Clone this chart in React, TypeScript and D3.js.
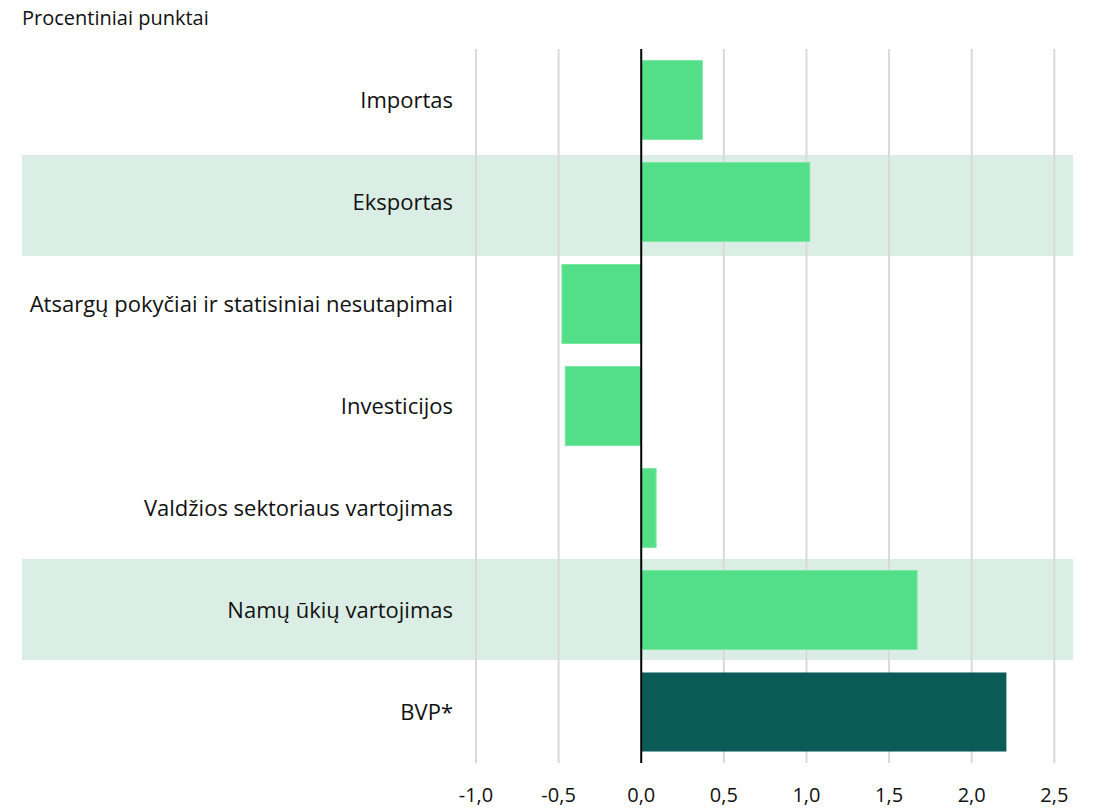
import * as d3 from "d3";

// Contributions to GDP growth, percentage points
const categories = [
  "Importas",
  "Eksportas",
  "Atsargų pokyčiai ir statisiniai nesutapimai",
  "Investicijos",
  "Valdžios sektoriaus vartojimas",
  "Namų ūkių vartojimas",
  "BVP*",
];
const values = [0.37, 1.02, -0.48, -0.46, 0.09, 1.67, 2.21];
const shadedRows = ["Eksportas", "Namų ūkių vartojimas"];
const ticks = [-1.0, -0.5, 0.0, 0.5, 1.0, 1.5, 2.0, 2.5];

const width = 1094;
const height = 808;
const font = "'Open Sans', 'Noto Sans', sans-serif";

export default function App() {
  const x = d3.scaleLinear().domain([-1, 2.5]).range([476, 1054.3]);
  const y = d3
    .scaleBand<string>()
    .domain(categories)
    .range([49, 763])
    .paddingInner(0.225)
    .paddingOuter(0.1125);
  // background stripes
  const rows = d3.scaleBand<string>().domain(categories).range([54, 761]);

  const fmt = (v: number) => d3.format(".1f")(v).replace(".", ",").replace("−", "-");

  return (
    <svg
      width={width}
      height={height}
      style={{ position: "absolute", left: 0, top: 0, background: "#fff" }}
      fontFamily={font}
    >
      <text x={22} y={25} fontSize={20} fill="#111">
        Procentiniai punktai
      </text>

      {shadedRows.map((c) => (
        <rect
          key={c}
          x={22}
          y={rows(c)}
          width={1073 - 22}
          height={rows.bandwidth()}
          fill="#dbeee5"
        />
      ))}

      {ticks
        .filter((t) => t !== 0)
        .map((t) => (
          <line
            key={t}
            x1={x(t)}
            x2={x(t)}
            y1={49}
            y2={763}
            stroke="#d9d9d9"
            strokeWidth={2}
          />
        ))}

      {categories.map((c, i) => {
        const v = values[i];
        return (
          <rect
            key={c}
            x={x(Math.min(0, v))}
            y={y(c)}
            width={Math.abs(x(v) - x(0))}
            height={y.bandwidth()}
            fill={c === "BVP*" ? "#0b5c57" : "#52df87"}
            stroke={c === "BVP*" ? "none" : "#7ce8a4"}
            strokeWidth={1}
          />
        );
      })}

      <line x1={x(0)} x2={x(0)} y1={49} y2={763} stroke="#000" strokeWidth={2} />

      {categories.map((c) => (
        <text
          key={c}
          x={453}
          y={(y(c) ?? 0) + y.bandwidth() / 2}
          dy="0.35em"
          textAnchor="end"
          fontSize={22}
          fill="#111"
        >
          {c}
        </text>
      ))}

      {ticks.map((t) => (
        <text
          key={t}
          x={x(t)}
          y={795}
          dy="0.35em"
          textAnchor="middle"
          fontSize={20}
          fill="#111"
        >
          {fmt(t)}
        </text>
      ))}
    </svg>
  );
}
